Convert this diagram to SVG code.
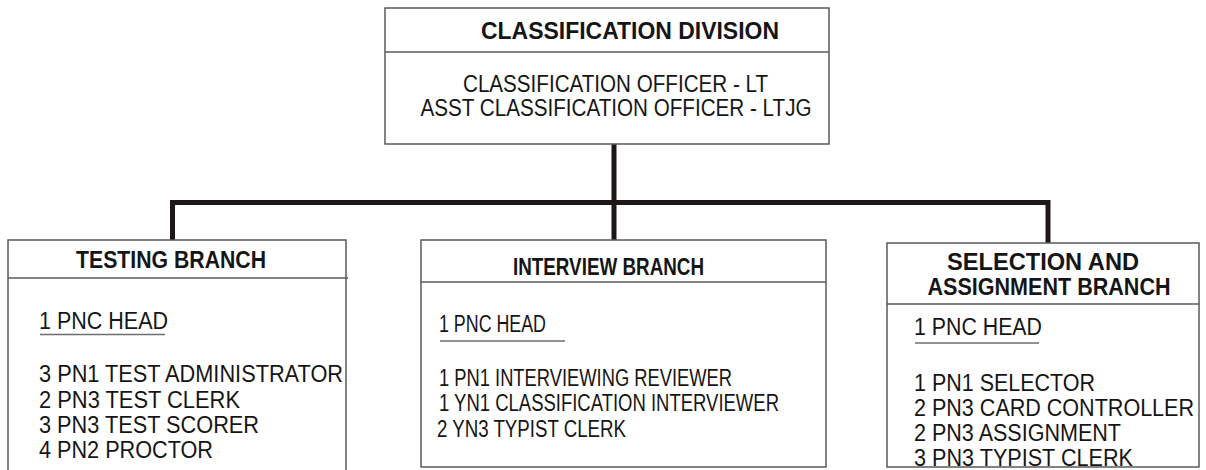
<svg xmlns="http://www.w3.org/2000/svg" width="1206" height="470" viewBox="0 0 1206 470">
  <style>
    .box { fill: #ffffff; stroke: #5a5a5a; stroke-width: 1.5; }
    .rule { stroke: #5a5a5a; stroke-width: 1.5; }
    .uline { stroke: #6e6e6e; stroke-width: 1.5; }
    .link { fill: none; stroke: #1e1717; stroke-width: 5; stroke-linejoin: miter; stroke-linecap: butt; }
    .title { font-family: "Liberation Sans", Arial, sans-serif; font-weight: bold; font-size: 24px; fill: #151515; text-anchor: middle; }
    .body { font-family: "Liberation Sans", Arial, sans-serif; font-size: 23px; fill: #151515; }
    .mid { text-anchor: middle; }
  </style>
  <rect width="1206" height="470" fill="#ffffff"/>

  <!-- connectors between the division and its branches -->
  <g id="connectors">
    <path class="link" d="M614 144 V202.5"/>
    <path class="link" d="M172.5 240 V202.5 H1048 V243"/>
    <path class="link" d="M614 202.5 V240"/>
  </g>

  <!-- division head -->
  <g id="classification-division">
    <rect class="box" x="385" y="8" width="444" height="136"/>
    <line class="rule" x1="385" y1="52" x2="829" y2="52"/>
    <text class="title" x="630" y="39" textLength="298" lengthAdjust="spacingAndGlyphs">CLASSIFICATION DIVISION</text>
    <text class="body mid" x="615.5" y="92" textLength="305" lengthAdjust="spacingAndGlyphs">CLASSIFICATION OFFICER - LT</text>
    <text class="body mid" x="616" y="116" textLength="391" lengthAdjust="spacingAndGlyphs">ASST CLASSIFICATION OFFICER - LTJG</text>
  </g>

  <!-- testing branch (box runs past the bottom edge) -->
  <g id="testing-branch">
    <rect class="box" x="8" y="240" width="338" height="260"/>
    <line class="rule" x1="8" y1="278" x2="348" y2="278"/>
    <text class="title" x="171" y="268" textLength="190" lengthAdjust="spacingAndGlyphs">TESTING BRANCH</text>
    <text class="body" x="39" y="329" textLength="129" lengthAdjust="spacingAndGlyphs">1 PNC HEAD</text>
    <line class="uline" x1="40" y1="334.5" x2="165" y2="334.5"/>
    <text class="body" x="39" y="382" textLength="304" lengthAdjust="spacingAndGlyphs">3 PN1 TEST ADMINISTRATOR</text>
    <text class="body" x="39" y="408" textLength="201" lengthAdjust="spacingAndGlyphs">2 PN3 TEST CLERK</text>
    <text class="body" x="39" y="433" textLength="220" lengthAdjust="spacingAndGlyphs">3 PN3 TEST SCORER</text>
    <text class="body" x="39" y="458" textLength="174" lengthAdjust="spacingAndGlyphs">4 PN2 PROCTOR</text>
  </g>

  <!-- interview branch -->
  <g id="interview-branch">
    <rect class="box" x="421" y="240" width="405" height="227"/>
    <line class="rule" x1="421" y1="282" x2="826" y2="282"/>
    <text class="title" x="608.5" y="275" font-size="22" textLength="191" lengthAdjust="spacingAndGlyphs">INTERVIEW BRANCH</text>
    <text class="body" x="439" y="332" textLength="107" lengthAdjust="spacingAndGlyphs">1 PNC HEAD</text>
    <line class="uline" x1="440" y1="341" x2="565" y2="341"/>
    <text class="body" x="439" y="386" textLength="293" lengthAdjust="spacingAndGlyphs">1 PN1 INTERVIEWING REVIEWER</text>
    <text class="body" x="439" y="411" textLength="340" lengthAdjust="spacingAndGlyphs">1 YN1 CLASSIFICATION INTERVIEWER</text>
    <text class="body" x="437" y="437" textLength="189" lengthAdjust="spacingAndGlyphs">2 YN3 TYPIST CLERK</text>
  </g>

  <!-- selection and assignment branch -->
  <g id="selection-assignment-branch">
    <rect class="box" x="887" y="243" width="312" height="224"/>
    <line class="rule" x1="887" y1="304" x2="1199" y2="304"/>
    <text class="title" x="1043" y="270" textLength="192" lengthAdjust="spacingAndGlyphs">SELECTION AND</text>
    <text class="title" x="1049" y="295" textLength="243" lengthAdjust="spacingAndGlyphs">ASSIGNMENT BRANCH</text>
    <text class="body" x="914" y="335" textLength="128" lengthAdjust="spacingAndGlyphs">1 PNC HEAD</text>
    <line class="uline" x1="915" y1="343" x2="1039" y2="343"/>
    <text class="body" x="914" y="391" textLength="181" lengthAdjust="spacingAndGlyphs">1 PN1 SELECTOR</text>
    <text class="body" x="914" y="416" font-size="21.5" textLength="280" lengthAdjust="spacingAndGlyphs">2 PN3 CARD CONTROLLER</text>
    <text class="body" x="914" y="441" textLength="207" lengthAdjust="spacingAndGlyphs">2 PN3 ASSIGNMENT</text>
    <text class="body" x="914" y="466" textLength="219" lengthAdjust="spacingAndGlyphs">3 PN3 TYPIST CLERK</text>
  </g>
</svg>
